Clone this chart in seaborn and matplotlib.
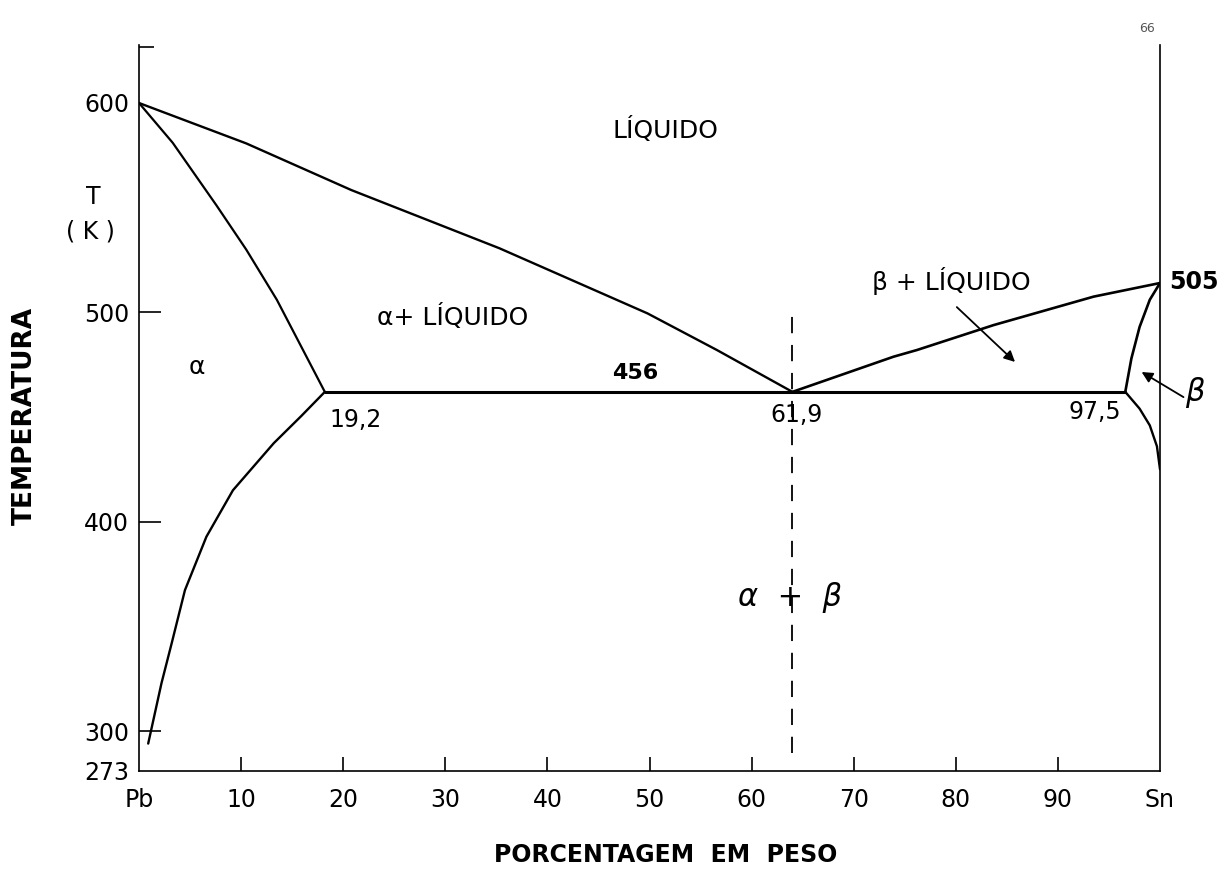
import matplotlib
matplotlib.use("Agg")
import matplotlib.pyplot as plt
import numpy as np
import pandas as pd
import seaborn as sns

# ---------------- data ----------------
# composition in weight % Sn, temperature in K
liq_left_x = [0, 10.5, 20.8, 35.3, 49.8, 56.6, 64.0]
liq_left_t = [600, 580.7, 558.4, 530.6, 499.5, 482.0, 462.0]
sol_left_x = [0, 3.3, 7.6, 10.5, 13.5, 18.2]
sol_left_t = [600, 581, 551, 530, 506, 462]
solv_left_x = [18.2, 15.9, 13.2, 9.2, 6.6, 4.5, 3.2, 2.2, 0.9]
solv_left_t = [462, 450.5, 437.5, 415, 392.8, 367.3, 341.9, 322.8, 294]
liq_right_x = [64.0, 73.9, 76.2, 83.7, 93.5, 100]
liq_right_t = [462, 478.8, 482.0, 493.9, 507.5, 514]
sol_right_x = [96.6, 97.2, 98.0, 99.0, 100]
sol_right_t = [462, 478, 493, 506, 514]
solv_right_x = [96.6, 98.0, 99.0, 99.7, 100]
solv_right_t = [462, 454, 446, 436, 425]
eutectic_x = [18.2, 96.6]
eutectic_t = [462, 462]
dashed_x = [64.0, 64.0]
dashed_t = [289.5, 502]

x_ticks = [0, 10, 20, 30, 40, 50, 60, 70, 80, 90, 100]
x_tick_labels = ["Pb", "10", "20", "30", "40", "50", "60", "70", "80", "90", "Sn"]
y_bottom, y_top = 280.9, 627.7
y_ticks = [y_bottom, 300, 400, 500, 600, 626.8]
y_tick_labels = ["273", "300", "400", "500", "600", ""]

# ---------------- figure ----------------
sns.set_theme(style="white")
plt.rcParams["font.family"] = ["DejaVu Sans"]
plt.rcParams["text.color"] = "black"

W, H = 1229, 876
fig = plt.figure(figsize=(W / 100, H / 100), dpi=100)
ax = fig.add_axes([139 / W, 1 - 771 / H, (1160 - 139) / W, 726 / H])

curves = [
    (liq_left_x, liq_left_t, 1.7),
    (sol_left_x, sol_left_t, 1.6),
    (solv_left_x, solv_left_t, 1.7),
    (liq_right_x, liq_right_t, 1.9),
    (sol_right_x, sol_right_t, 1.9),
    (solv_right_x, solv_right_t, 1.7),
    (eutectic_x, eutectic_t, 2.2),
]
for xs, ts, lw in curves:
    df = pd.DataFrame({"x": xs, "t": ts})
    sns.lineplot(data=df, x="x", y="t", ax=ax, color="black", lw=lw,
                 sort=False, estimator=None, legend=False)
    ax.lines[-1].set_solid_joinstyle("round")

df_d = pd.DataFrame({"x": dashed_x, "t": dashed_t})
sns.lineplot(data=df_d, x="x", y="t", ax=ax, color="black", lw=1.3,
             sort=False, estimator=None, legend=False)
ax.lines[-1].set_dashes((9, 6.5))

ax.set_xlim(0, 100)
ax.set_ylim(y_bottom, y_top)
ax.set_xlabel("")
ax.set_ylabel("")

for s in ["left", "bottom", "right"]:
    ax.spines[s].set_visible(True)
    ax.spines[s].set_color("black")
    ax.spines[s].set_linewidth(1.2)
ax.spines["top"].set_visible(False)

ax.set_xticks(x_ticks)
ax.set_xticklabels(x_tick_labels)
ax.set_yticks(y_ticks)
ax.set_yticklabels(y_tick_labels)
ax.tick_params(axis="x", direction="in", length=10, width=1.2, pad=12,
               labelsize=17, colors="black", bottom=True)
ax.tick_params(axis="y", direction="in", length=16, width=1.2, pad=7,
               labelsize=17, colors="black", left=True)
xt = ax.xaxis.get_major_ticks()
xt[0].tick1line.set_visible(False)
xt[-1].tick1line.set_visible(False)
yt = ax.yaxis.get_major_ticks()
yt[0].tick1line.set_visible(False)
yt[4].tick1line.set_visible(False)
yt[5].tick1line.set_markersize(11)

# ---------------- annotations ----------------
txt = dict(color="black", ha="center", va="center")
ax.text(51.6, 587, "LÍQUIDO", fontsize=18, **txt)
ax.text(30.7, 498, "α+ LÍQUIDO", fontsize=18, **txt)
ax.text(5.7, 474, "α", fontsize=18, **txt)
ax.text(48.6, 471, "456", fontsize=16, fontweight="bold", **txt)
ax.text(21.2, 448.5, "19,2", fontsize=17, **txt)
ax.text(64.4, 451, "61,9", fontsize=17, **txt)
ax.text(93.6, 452.4, "97,5", fontsize=17, **txt)
ax.text(79.6, 515, "β + LÍQUIDO", fontsize=18, **txt)
ax.text(63.8, 364, "α  +  β", fontsize=22, style="italic", **txt)
ax.text(103.3, 514.5, "505", fontsize=17, fontweight="bold", clip_on=False, **txt)
ax.text(103.4, 461.5, "β", fontsize=22, style="italic", clip_on=False, **txt)

arrow = dict(arrowstyle="-|>", color="black", lw=1.3, mutation_scale=16,
             shrinkA=0, shrinkB=0)
ax.annotate("", xy=(85.8, 476.3), xytext=(80.1, 502.5), arrowprops=arrow)
ax.annotate("", xy=(98.2, 471.5), xytext=(102.3, 459.5), arrowprops=arrow,
            annotation_clip=False)

fig.text(93 / W, 1 - 197 / H, "T", fontsize=17, color="black",
         ha="center", va="center")
fig.text(90 / W, 1 - 232 / H, "( K )", fontsize=17, color="black",
         ha="center", va="center")
fig.text(25 / W, 1 - 416 / H, "TEMPERATURA", fontsize=19, fontweight="bold",
         color="black", rotation=90, ha="center", va="center")
fig.text(666 / W, 1 - 855 / H, "PORCENTAGEM  EM  PESO", fontsize=17,
         fontweight="bold", color="black", ha="center", va="center")
fig.text(1147 / W, 1 - 28 / H, "66", fontsize=9, color="#555555",
         ha="center", va="center")

fig.savefig("out.png", dpi=100, facecolor="white")
